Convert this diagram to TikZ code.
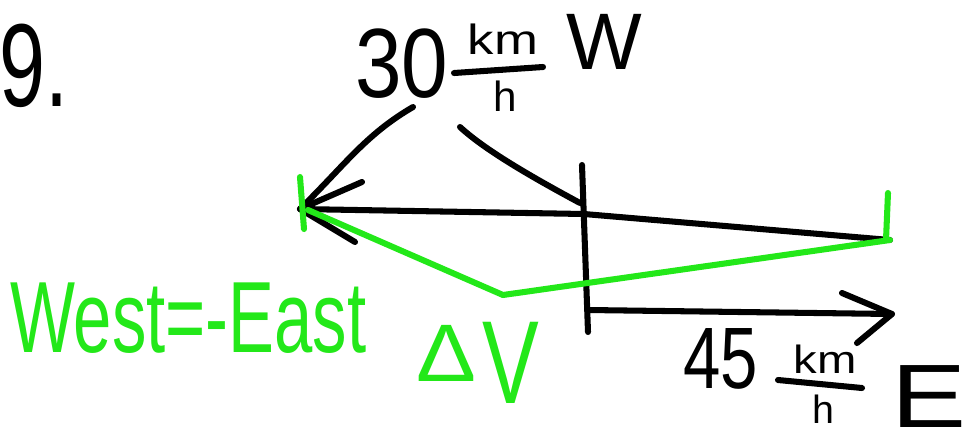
\documentclass[tikz,border=0pt]{standalone}
\usepackage{fontspec}
\setmainfont{Liberation Sans}
\usepackage{graphicx}
\definecolor{ink}{RGB}{0,0,0}
\definecolor{pen}{RGB}{35,232,25}
\begin{document}
\begin{tikzpicture}[x=0.025cm,y=-0.025cm,
  stroke/.style={line width=4.3pt,line cap=round,line join=round},
  blk/.style={stroke,draw=ink},
  grn/.style={stroke,draw=pen},
  lbl/.style={inner sep=0pt,outer sep=0pt,anchor=base west},
  lblc/.style={inner sep=0pt,outer sep=0pt,anchor=base},
]
\useasboundingbox[fill=white] (0,0) rectangle (968,430);

% ---- texts
\node[lbl] (nine) at (0,106) {\fontsize{84}{84}\selectfont\scalebox{0.7}[1]{9.}};
\node[lbl] (thirty) at (355,97) {\fontsize{70}{70}\selectfont\scalebox{0.85}[1]{30}};
\node[lblc] (kmA) at (503,54) {\fontsize{30}{30}\selectfont\scalebox{1.25}[1]{km}};
\node[lblc] (hA) at (505,111) {\fontsize{30}{30}\selectfont h};
\node[lbl] (west) at (566,69) {\fontsize{57}{57}\selectfont W};
\node[lbl] (fortyfive) at (683,388) {\fontsize{62}{62}\selectfont\scalebox{0.77}[1]{45}};
\node[lblc] (kmB) at (825,373) {\fontsize{28}{28}\selectfont\scalebox{1.2}[1]{km}};
\node[lblc] (hB) at (823,423) {\fontsize{28}{28}\selectfont h};
\node[lbl] (east) at (891,427) {\fontsize{64}{64}\selectfont\scalebox{1.25}[1]{E}};
\node[lbl,text=pen] (rule) at (10,352) {\fontsize{72}{72}\selectfont\scalebox{0.68}[1]{West=-East}};
\node[lbl,text=pen] (delta) at (416,381) {\fontsize{58}{58}\selectfont\scalebox{1.1}[1]{Δ}};
\node[lbl,text=pen] (vee) at (482,403) {\fontsize{84}{84}\selectfont\scalebox{0.72}[1]{V}};

% ---- coordinates
\coordinate (Wt) at (300,209);
\coordinate (O) at (584,214);
\coordinate (Ee) at (890,240);
\coordinate (axT) at (582,165);
\coordinate (axB) at (588,332);
\coordinate (bS) at (588,310);
\coordinate (bT) at (892,314);
\coordinate (bU) at (842,293);
\coordinate (bL) at (857,343);
\coordinate (wU) at (362,182);
\coordinate (wL) at (355,242);
\coordinate (la) at (413,107);
\coordinate (lb) at (460,127);
\coordinate (lbE) at (580,203);
\coordinate (barAl) at (454,73);
\coordinate (barAr) at (543,67);
\coordinate (barBl) at (778,380);
\coordinate (barBr) at (862,388);
\coordinate (gS) at (308,210);
\coordinate (Vv) at (503,295);
\coordinate (gtl1) at (300,177);
\coordinate (gtl2) at (304,229);
\coordinate (gtr1) at (888,193);
\coordinate (gtr2) at (886,240);

% ---- fraction bars
\draw[blk] (barAl) -- (barAr);
\draw[blk] (barBl) -- (barBr);

% ---- black vectors and axis
\draw[blk] (Wt) -- (O) -- (Ee);
\draw[blk] (axT) -- (axB);
\draw[blk] (bS) -- (bT);
\draw[blk] (bU) -- (bT) -- (bL);
\draw[blk] (wU) -- (Wt) -- (wL);
\draw[blk] (la) .. controls (365,135) and (345,165) .. (Wt);
\draw[blk] (lb) .. controls (485,150) and (530,176) .. (lbE);

% ---- green
\draw[grn] (gtl1) -- (gtl2);
\draw[grn] (gS) -- (Vv) -- (Ee);
\draw[grn] (gtr1) -- (gtr2);
\end{tikzpicture}
\end{document}
